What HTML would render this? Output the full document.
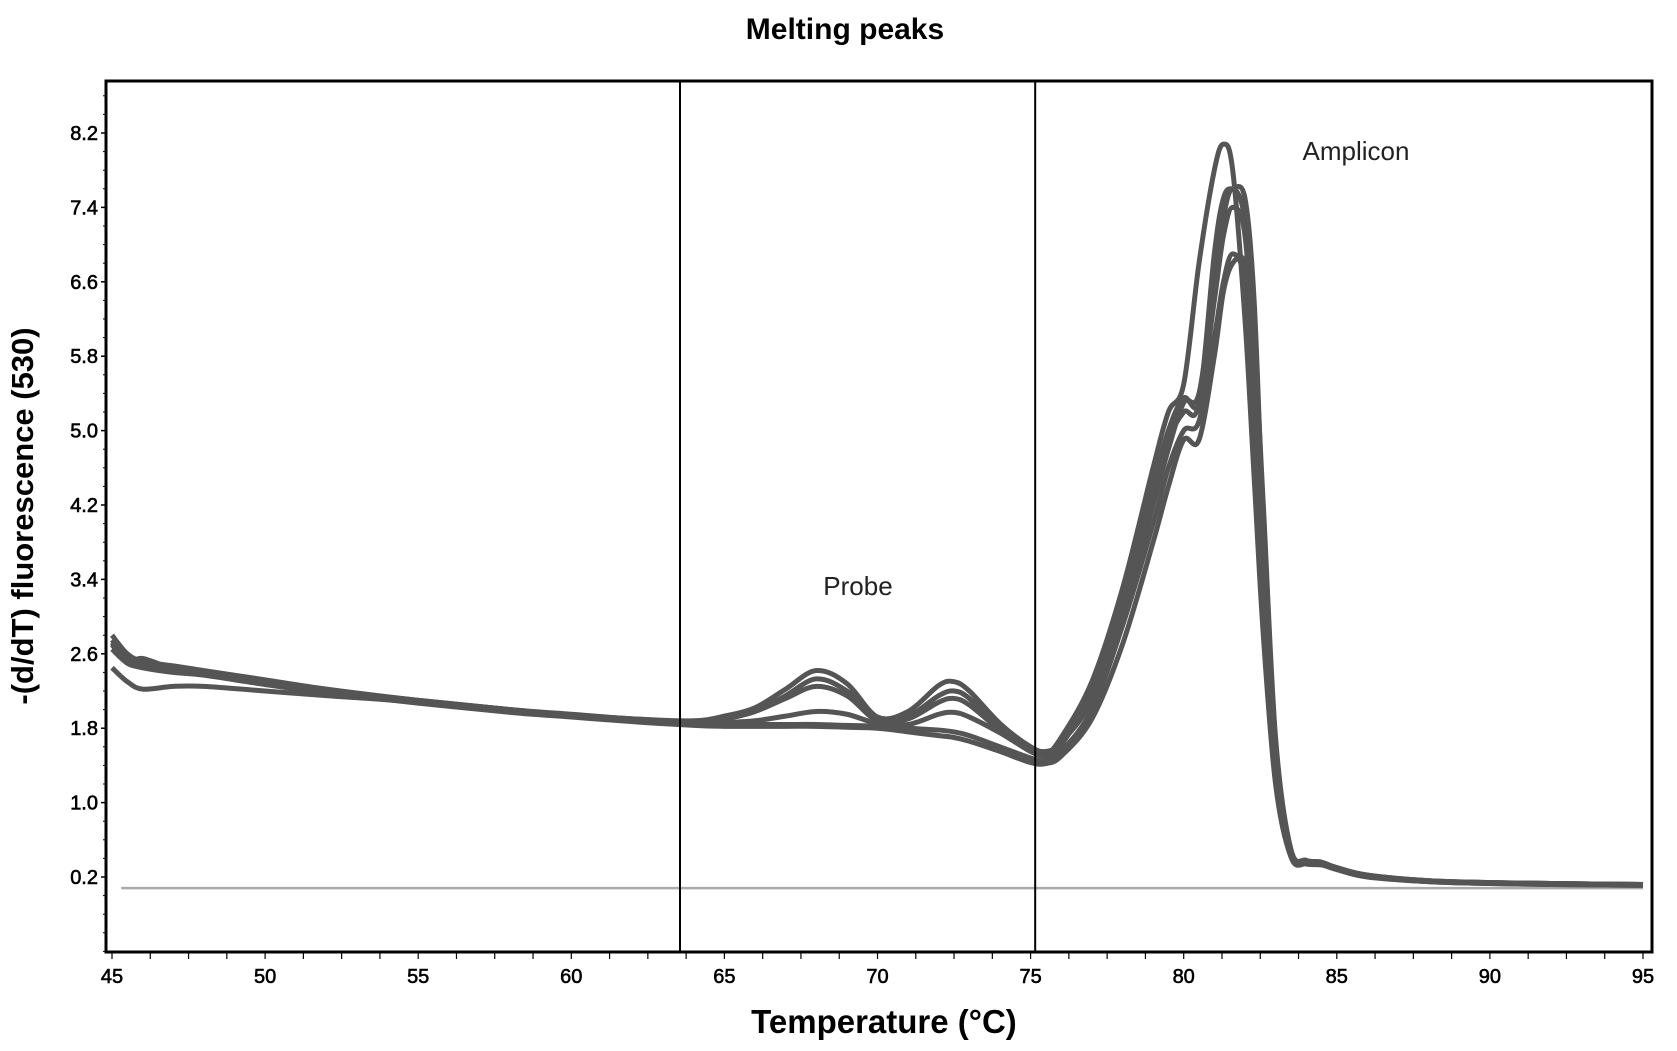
<!DOCTYPE html>
<html><head><meta charset="utf-8"><style>
html,body{margin:0;padding:0;background:#fff;}
svg{display:block;font-family:"Liberation Sans",Arial,sans-serif;}
</style></head><body>
<svg id="chart" width="1677" height="1051" viewBox="0 0 1677 1051">
<text x="845" y="39" text-anchor="middle" font-size="30" font-weight="bold">Melting peaks</text>
<text transform="translate(33,516) rotate(-90)" text-anchor="middle" font-size="31" font-weight="bold">-(d/dT) fluorescence (530)</text>
<text x="884" y="1033" text-anchor="middle" font-size="33" font-weight="bold">Temperature (°C)</text>
<text x="858" y="595" text-anchor="middle" font-size="26" fill="#222">Probe</text>
<text x="1356" y="160" text-anchor="middle" font-size="26" fill="#222">Amplicon</text>
<g id="ticks"></g>
<g id="series"></g>
<g id="frame"></g>
</svg>
<script>
const temps=[45,45.5,46,47,48,50,52,55,58,60,62,64,65,66,67,68,69,70,71,72,72.5,73,74,75,75.5,76,77,78,79,79.5,80,80.5,81,81.3,81.6,82,82.3,82.6,83,83.5,84,84.5,85,86,88,90,92,95];
const seriesA=[2.75,2.55,2.5,2.45,2.4,2.3,2.2,2.1,2.0,1.95,1.9,1.88,1.93,2.02,2.22,2.42,2.28,1.92,1.98,2.26,2.3,2.2,1.85,1.6,1.55,1.65,2.1,3.0,4.2,4.8,5.3,5.4,6.6,7.3,7.6,7.25,5.8,3.5,1.4,0.45,0.36,0.35,0.3,0.22,0.16,0.14,0.13,0.12];
const seriesB=[2.7,2.5,2.48,2.42,2.38,2.28,2.2,2.08,1.98,1.93,1.88,1.85,1.84,1.84,1.84,1.84,1.83,1.82,1.8,1.78,1.76,1.72,1.6,1.48,1.45,1.55,2.0,2.9,4.0,4.6,5.0,5.1,6.0,6.6,6.9,6.6,5.3,3.2,1.3,0.42,0.34,0.33,0.28,0.2,0.15,0.13,0.12,0.11];
const seriesC=[2.8,2.6,2.52,2.47,2.42,2.32,2.22,2.1,2.0,1.94,1.9,1.87,1.9,1.98,2.12,2.25,2.15,1.88,1.9,2.08,2.12,2.05,1.78,1.55,1.52,1.7,2.3,3.3,4.6,5.2,5.5,6.8,7.8,8.08,7.8,6.2,4.5,2.8,1.2,0.42,0.35,0.34,0.3,0.21,0.15,0.14,0.13,0.12];
const seriesD=[2.45,2.3,2.22,2.25,2.25,2.2,2.15,2.08,1.98,1.93,1.88,1.85,1.86,1.88,1.93,1.98,1.95,1.85,1.84,1.95,1.97,1.92,1.75,1.55,1.5,1.62,2.2,3.2,4.4,5.0,5.35,5.3,6.4,7.1,7.4,7.1,5.6,3.4,1.35,0.44,0.36,0.34,0.29,0.21,0.16,0.14,0.13,0.12];
const seriesE=[2.65,2.5,2.45,2.4,2.37,2.27,2.18,2.07,1.97,1.92,1.87,1.83,1.82,1.82,1.82,1.82,1.81,1.8,1.76,1.72,1.7,1.66,1.55,1.43,1.42,1.5,1.9,2.7,3.8,4.4,4.9,4.9,5.8,6.5,6.8,6.8,6.0,4.2,1.7,0.5,0.38,0.36,0.3,0.21,0.15,0.13,0.12,0.11];
const seriesF=[2.72,2.52,2.55,2.44,2.4,2.3,2.2,2.1,2.0,1.94,1.89,1.86,1.9,1.98,2.15,2.33,2.2,1.9,1.93,2.15,2.2,2.12,1.8,1.57,1.53,1.66,2.15,3.1,4.3,4.9,5.2,5.3,6.9,7.5,7.6,7.5,6.4,4.0,1.6,0.48,0.37,0.35,0.3,0.22,0.16,0.14,0.13,0.12];
const allSeries=[seriesA,seriesB,seriesC,seriesD,seriesE,seriesF];
const yTickLabels=["0.2","1.0","1.8","2.6","3.4","4.2","5.0","5.8","6.6","7.4","8.2"];
const xTickLabels=["45","50","55","60","65","70","75","80","85","90","95"];
const markerTemps=[63.55,75.15];
const baselineValue=0.08;

const NS="http://www.w3.org/2000/svg";
const L=106,R=1652,T=81,B=952;
const xs=t=>112+(t-45)*30.62;
const ys=v=>877-(v-0.2)*93;
function el(tag,attrs,parent){const e=document.createElementNS(NS,tag);for(const k in attrs)e.setAttribute(k,attrs[k]);parent.appendChild(e);return e;}
const tk=document.getElementById('ticks'),sg=document.getElementById('series'),fr=document.getElementById('frame');

yTickLabels.forEach(lbl=>{
  const y=ys(parseFloat(lbl));
  const t=el('text',{x:L-8,y:y+7,'text-anchor':'end','font-size':'20',fill:'#000',stroke:'#000','stroke-width':0.6},tk);
  t.textContent=lbl;
  
  
  el('line',{x1:L-5,x2:L,y1:y,y2:y,stroke:'#000','stroke-width':1.5},tk);
});
for(let v=-0.6;v<=8.7;v+=0.2){const y=ys(v);if(y<T||y>B)continue;el('line',{x1:L-3,x2:L,y1:y,y2:y,stroke:'#000','stroke-width':1},tk);}
xTickLabels.forEach(lbl=>{
  const x=xs(parseFloat(lbl));
  const t=el('text',{x:x,y:B+31,'text-anchor':'middle','font-size':'20',fill:'#000',stroke:'#000','stroke-width':0.6},tk);
  t.textContent=lbl;
  
  
});
for(let t=45;t<=95.01;t+=1.25){const x=xs(t);el('line',{x1:x,x2:x,y1:B,y2:B+7,stroke:'#000','stroke-width':1.2},tk);}

const bl=el('line',{x1:xs(45.3),x2:xs(95),y1:ys(baselineValue),y2:ys(baselineValue),stroke:'#aaa','stroke-width':2.5},sg);



function pathFor(vals){
  const p=temps.map((t,i)=>[xs(t),ys(vals[i])]);
  let d=`M${p[0][0]},${p[0][1]}`;
  for(let i=0;i<p.length-1;i++){
    const p0=p[Math.max(0,i-1)],p1=p[i],p2=p[i+1],p3=p[Math.min(p.length-1,i+2)];
    const c1=[p1[0]+(p2[0]-p0[0])/6,p1[1]+(p2[1]-p0[1])/6];
    const c2=[p2[0]-(p3[0]-p1[0])/6,p2[1]-(p3[1]-p1[1])/6];
    d+=`C${c1[0]},${c1[1]} ${c2[0]},${c2[1]} ${p2[0]},${p2[1]}`;
  }
  return d;
}
allSeries.forEach((vals,i)=>{
  const pth=el('path',{d:pathFor(vals),fill:'none',stroke:'#555','stroke-width':5,'stroke-linejoin':'round'},sg);
  
  
});

markerTemps.forEach((t,i)=>{
  const ln=el('line',{x1:xs(t),x2:xs(t),y1:T,y2:B,stroke:'#000','stroke-width':2},fr);
  
  
});
const box=el('rect',{x:L,y:T,width:R-L,height:B-T,fill:'none',stroke:'#000','stroke-width':3},fr);


</script>
</body></html>
